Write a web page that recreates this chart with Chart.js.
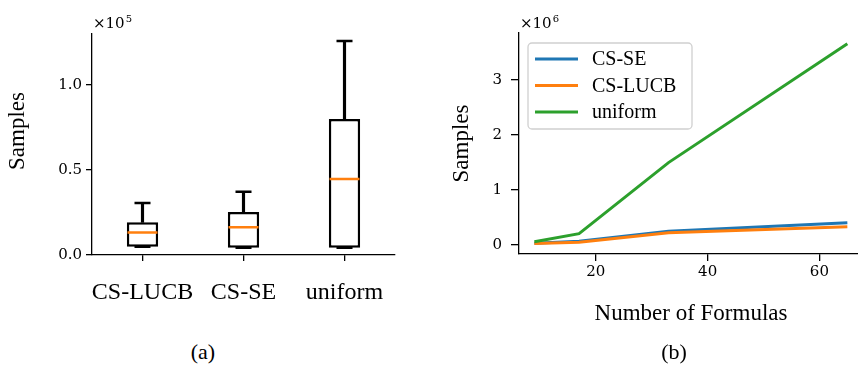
<!DOCTYPE html>
<html>
<head>
<meta charset="utf-8">
<script src="https://cdn.jsdelivr.net/npm/chart.js@4.4.0/dist/chart.umd.min.js"></script>
<style>
  body { margin: 0; width: 858px; height: 365px; overflow: hidden; background: #fff; position: relative; }
  #boxChart { position: absolute; left: 0; top: 0; }
  #lineChart { position: absolute; left: 430px; top: 0; }
  .caption { position: absolute; top: 340px; width: 60px; text-align: center;
             font: 22px "Liberation Serif"; line-height: 24px; color: #000; }
</style>
</head>
<body>
<canvas id="boxChart" width="400" height="320"></canvas>
<canvas id="lineChart" width="440" height="340"></canvas>
<div class="caption" style="left:173px">(a)</div>
<div class="caption" style="left:644px">(b)</div>
<script>
// (a) box plot, samples per method
const methods = ["CS-LUCB", "CS-SE", "uniform"];
const boxMin = [4800, 4200, 4200];
const boxQ1 = [4900, 4300, 4300];
const boxMedian = [13300, 16300, 44700];
const boxQ3 = [19200, 25300, 80000];
const boxMax = [30600, 37200, 125900];
const boxYTicks = [0, 50000, 100000];

// (b) samples vs number of formulas
const formulaCounts = [9, 17, 33, 65];
const seSamples = [30000, 67000, 250000, 405000];
const lucbSamples = [25000, 50000, 220000, 333000];
const uniformSamples = [60000, 205000, 1496000, 3655000];
const lineXTicks = [20, 40, 60];
const lineYTicks = [0, 1000000, 2000000, 3000000];

const tickFont = { family: "DejaVu Serif", size: 15 };
const labelFont = { family: "Liberation Serif", size: 23 };

// only left + bottom spines, ticks pointing out
function spineGrid(len) {
  return { display: true, drawOnChartArea: false, drawTicks: true, tickLength: len,
           color: "#000", lineWidth: 1.3, offset: false };
}
const spineBorder = { display: true, color: "#000", width: 1.3 };

// free text: offset labels (x10^n) and the left y label
const notesPlugin = {
  id: "notes",
  afterDraw(chart, args, opts) {
    const ctx = chart.ctx;
    (opts.items || []).forEach(function (it) {
      ctx.save();
      ctx.fillStyle = "#000";
      ctx.font = it.font;
      ctx.textAlign = it.align || "left";
      ctx.textBaseline = it.baseline || "alphabetic";
      ctx.translate(it.x, it.y);
      if (it.rotate) ctx.rotate(it.rotate);
      ctx.fillText(it.text, 0, 0);
      if (it.sup) {
        const w = ctx.measureText(it.text).width;
        ctx.font = it.supFont;
        ctx.textAlign = "left";
        ctx.fillText(it.sup, w + 1, -6);
      }
      ctx.restore();
    });
  }
};

// legend box drawn inside the plot area (upper left)
const insetLegend = {
  id: "insetLegend",
  afterDraw(chart, args, opts) {
    if (!opts.display) return;
    const ctx = chart.ctx, a = chart.chartArea;
    const x0 = a.left + 9, y0 = a.top + 10, w = 164, h = 86;
    ctx.save();
    ctx.fillStyle = "rgba(255,255,255,0.8)";
    ctx.strokeStyle = "#d0d0d0";
    ctx.lineWidth = 1.3;
    ctx.beginPath();
    ctx.roundRect(x0, y0, w, h, 4);
    ctx.fill();
    ctx.stroke();
    ctx.font = '20px "Liberation Serif"';
    ctx.textBaseline = "middle";
    chart.data.datasets.forEach(function (ds, i) {
      const y = y0 + 16 + i * 26.5;
      ctx.strokeStyle = ds.borderColor;
      ctx.lineWidth = 3;
      ctx.beginPath();
      ctx.moveTo(x0 + 7, y);
      ctx.lineTo(x0 + 50, y);
      ctx.stroke();
      ctx.fillStyle = "#000";
      ctx.fillText(ds.label, x0 + 64, y + 1);
    });
    ctx.restore();
  }
};

// boxes are floating bars, whiskers thin bars, caps/medians line-style points
new Chart(document.getElementById("boxChart"), {
  type: "bar",
  data: {
    labels: methods,
    datasets: [
      { type: "line", label: "median", data: boxMedian, showLine: false,
        pointStyle: "line", pointRadius: 15, pointBorderWidth: 2.5,
        borderColor: "#ff7f0e", order: 0 },
      { type: "line", label: "upper cap", data: boxMax, showLine: false,
        pointStyle: "line", pointRadius: 8, pointBorderWidth: 2.5,
        borderColor: "#000", order: 0 },
      { type: "line", label: "lower cap", data: boxMin, showLine: false,
        pointStyle: "line", pointRadius: 8, pointBorderWidth: 2.5,
        borderColor: "#000", order: 0 },
      { label: "box", data: methods.map((m, i) => [boxQ1[i], boxQ3[i]]),
        backgroundColor: "#fff", borderColor: "#000", borderWidth: 2.5, borderSkipped: false,
        barPercentage: 0.31, categoryPercentage: 1, grouped: false, order: 1 },
      { label: "upper whisker", data: methods.map((m, i) => [boxQ3[i], boxMax[i]]),
        backgroundColor: "#000", barThickness: 2.5, grouped: false, order: 2 },
      { label: "lower whisker", data: methods.map((m, i) => [boxMin[i], boxQ1[i]]),
        backgroundColor: "#000", barThickness: 2.5, grouped: false, order: 2 }
    ]
  },
  options: {
    responsive: false,
    animation: false,
    layout: { autoPadding: false, padding: { top: 34, right: 5, left: 0, bottom: 0 } },
    plugins: {
      legend: { display: false },
      tooltip: { enabled: false },
      notes: {
        items: [
          { text: "×10", sup: "5", x: 93, y: 28, font: "15px 'DejaVu Serif'", supFont: "10px 'DejaVu Serif'" },
          { text: "Samples", x: 18, y: 131, rotate: -Math.PI / 2, align: "center", baseline: "middle",
            font: "23px 'Liberation Serif'" }
        ]
      }
    },
    scales: {
      x: {
        offset: true,
        grid: spineGrid(6),
        border: spineBorder,
        ticks: { color: "#000", font: { family: "Liberation Serif", size: 24 }, padding: 17,
                 autoSkip: false, maxRotation: 0, minRotation: 0 },
        afterFit(s) { s.height = 65; s.paddingLeft = 0; s.paddingRight = 0; }
      },
      y: {
        min: 0,
        max: 130000,
        grid: spineGrid(6),
        border: spineBorder,
        ticks: { color: "#000", font: tickFont, padding: 4,
                 callback: (v) => (v / 100000).toFixed(1) },
        afterBuildTicks(s) { s.ticks = boxYTicks.map((v) => ({ value: v })); },
        afterFit(s) { s.width = 92; }
      }
    }
  },
  plugins: [notesPlugin]
});

new Chart(document.getElementById("lineChart"), {
  type: "line",
  data: {
    datasets: [
      { label: "CS-SE", data: formulaCounts.map((x, i) => ({ x: x, y: seSamples[i] })),
        borderColor: "#1f77b4", order: 3 },
      { label: "CS-LUCB", data: formulaCounts.map((x, i) => ({ x: x, y: lucbSamples[i] })),
        borderColor: "#ff7f0e", order: 2 },
      { label: "uniform", data: formulaCounts.map((x, i) => ({ x: x, y: uniformSamples[i] })),
        borderColor: "#2ca02c", order: 1 }
    ]
  },
  options: {
    responsive: false,
    animation: false,
    layout: { padding: { top: 33, right: 7, left: 0, bottom: 0 } },
    elements: { line: { borderWidth: 3, tension: 0 }, point: { radius: 0 } },
    plugins: {
      legend: { display: false },
      tooltip: { enabled: false },
      insetLegend: { display: true },
      notes: {
        items: [
          { text: "×10", sup: "6", x: 90, y: 28, font: "15px 'DejaVu Serif'", supFont: "10px 'DejaVu Serif'" }
        ]
      }
    },
    scales: {
      x: {
        type: "linear",
        min: 6.25,
        max: 67.8,
        grid: spineGrid(7),
        border: spineBorder,
        ticks: { color: "#000", font: tickFont, padding: 2, maxRotation: 0 },
        afterBuildTicks(s) { s.ticks = lineXTicks.map((v) => ({ value: v })); },
        title: { display: true, text: "Number of Formulas", color: "#000", font: labelFont,
                 padding: { top: 0, bottom: 12 } },
        afterFit(s) { s.height = 86; }
      },
      y: {
        min: -164000,
        max: 3850000,
        grid: spineGrid(8),
        border: spineBorder,
        ticks: { color: "#000", font: tickFont, padding: 9,
                 callback: (v) => String(v / 1000000) },
        afterBuildTicks(s) { s.ticks = lineYTicks.map((v) => ({ value: v })); },
        title: { display: true, text: "Samples", color: "#000", font: labelFont,
                 padding: { top: 18, bottom: 0 } },
        afterFit(s) { s.width = 89; }
      }
    }
  },
  plugins: [notesPlugin, insetLegend]
});
</script>
</body>
</html>
